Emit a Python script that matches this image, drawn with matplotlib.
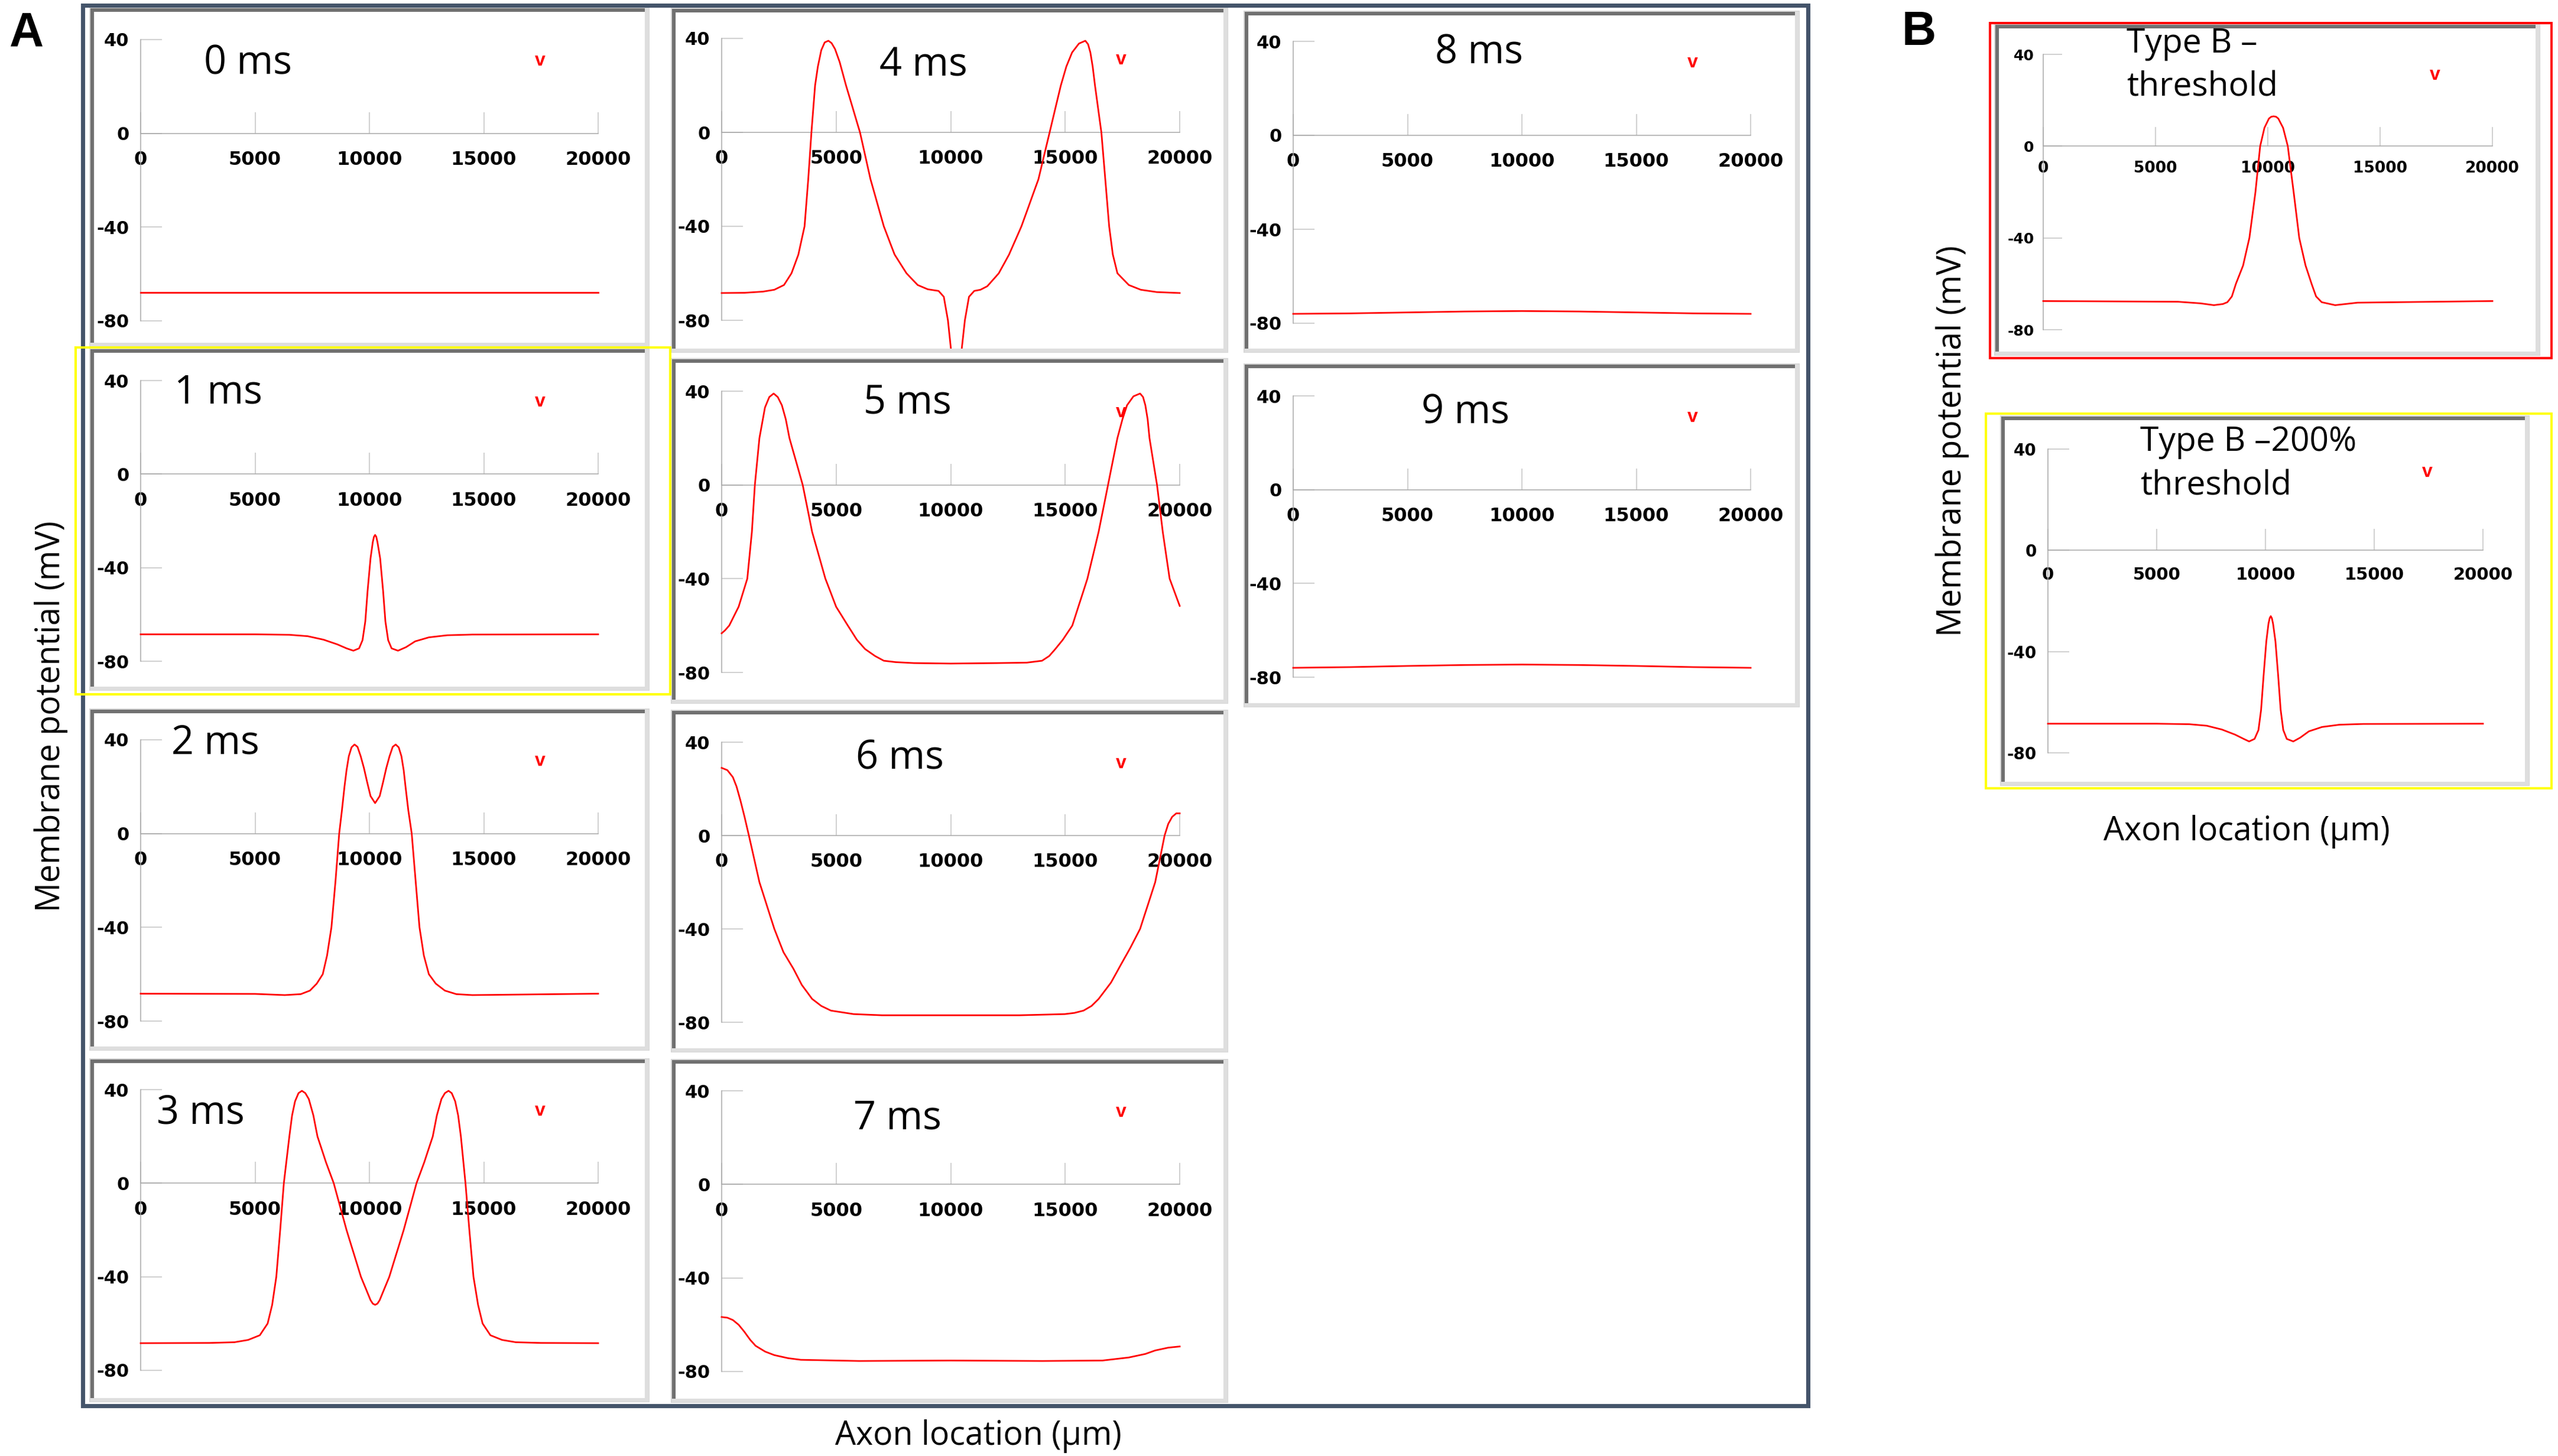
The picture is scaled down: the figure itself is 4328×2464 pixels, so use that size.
import matplotlib
matplotlib.use('Agg')
import matplotlib.pyplot as plt
from matplotlib.patches import Rectangle

W, H = 4328, 2464

x_ticks = [0, 5000, 10000, 15000, 20000]
x_tick_labels = ['0', '5000', '10000', '15000', '20000']
y_ticks = [40, 0, -40, -80]
y_tick_labels = ['40', '0', '-40', '-80']

# membrane potential (mV) along the axon (um)
x_0ms = [0, 5000, 10000, 15000, 20000]
v_0ms = [-68, -68, -68, -68, -68]

x_1ms = [0, 5000, 6500, 7300, 8000, 8600, 9000, 9300, 9550, 9700, 9820, 9920, 10050, 10150,
         10200, 10250, 10300, 10350, 10470, 10600, 10700, 10820, 10970, 11250, 11600, 12000,
         12600, 13400, 14500, 20000]
v_1ms = [-68.5, -68.5, -68.7, -69.3, -70.8, -72.8, -74.5, -75.5, -74.5, -71, -63, -50, -36, -29,
         -26.8, -26, -26.8, -29, -36, -50, -63, -71, -74.5, -75.5, -74, -71.5,
         -69.8, -68.9, -68.6, -68.5]

x_2ms = [0, 5000, 6300, 7000, 7400, 7700, 7960, 8150, 8340, 8520, 8680, 8800, 8910, 9000, 9100,
         9220, 9350, 9480, 9620, 9760, 9900, 10050, 10250, 10450, 10600, 10740, 10880, 11020,
         11150, 11280, 11400, 11500, 11580, 11700, 11850, 12020, 12190, 12380, 12600, 12900,
         13300, 13800, 14500, 20000]
v_2ms = [-68.3, -68.4, -68.9, -68.5, -67, -64, -60, -52, -40, -20, 0, 10, 20, 27, 33,
         36.8, 38, 37, 33, 28, 22, 16, 13, 16, 22, 28, 33, 37,
         38, 36.8, 33, 27, 20, 10, 0, -20, -40, -52, -60, -64,
         -67, -68.5, -68.9, -68.3]

x_3ms = [0, 3000, 4100, 4700, 5210, 5550, 5750, 5930, 6100, 6260, 6500, 6620, 6750, 6900, 7050,
         7200, 7350, 7550, 7730, 8100, 8440, 9000, 9630, 10050, 10150, 10250, 10350, 10450,
         10870, 11500, 12060, 12400, 12770, 12950, 13150, 13300, 13460, 13600, 13750, 13880,
         14000, 14200, 14370, 14550, 14750, 14950, 15290, 15800, 16400, 17500, 20000]
v_3ms = [-68.4, -68.3, -68, -67, -65, -60, -52, -40, -20, 0, 20, 29, 35, 38.5, 39.5,
         38.5, 36, 29, 20, 9, 0, -20, -40, -50, -51.5, -52, -51.5, -50,
         -40, -20, 0, 9, 20, 29, 36, 38.5, 39.5, 38.5, 35, 29,
         20, 0, -20, -40, -52, -60, -65, -67, -68, -68.3, -68.4]

x_4ms = [0, 1000, 1800, 2300, 2720, 3050, 3350, 3620, 3780, 3920, 4080, 4200, 4350, 4500, 4660,
         4800, 4950, 5150, 5430, 6040, 6500, 7080, 7550, 8070, 8560, 9000, 9470, 9700, 9880,
         10040, 10250, 10450, 10620, 10800, 11030, 11300, 11600, 12100, 12550, 13090, 13830,
         14320, 14810, 15050, 15300, 15600, 15880, 16000, 16100, 16200, 16300, 16580, 16750,
         16920, 17080, 17280, 17780, 18300, 19000, 20000]
v_4ms = [-68.4, -68.3, -67.8, -67, -65, -60, -52, -40, -20, 0, 20, 28, 35, 38.3, 39,
         38, 35.5, 30, 20, 0, -20, -40, -52, -60, -65, -66.8, -67.5, -70, -80,
         -95, -120, -95, -80, -70, -67.5, -67, -65.5, -60, -52, -40, -20,
         0, 20, 28, 34, 37.8, 39, 37.5, 34, 28, 20, 0, -20,
         -40, -52, -60, -65, -67, -68, -68.4]

x_5ms = [0, 150, 330, 740, 1120, 1320, 1450, 1650, 1890, 2080, 2270, 2450, 2630, 2800, 2960,
         3540, 3950, 4530, 5000, 5510, 5900, 6260, 6700, 7080, 7600, 8400, 10000, 12000, 13330,
         13990, 14300, 14570, 14900, 15310, 15970, 16460, 16870, 17280, 17500, 17700, 17980,
         18270, 18400, 18500, 18600, 18680, 19010, 19260, 19560, 20000]
v_5ms = [-63.3, -62, -60, -52, -40, -20, 0, 20, 33, 37.5, 39, 37.5, 34, 28, 20,
         0, -20, -40, -52, -60, -66, -70, -73, -75, -75.6, -76, -76.2, -76, -75.8,
         -75, -73, -70, -66, -60, -40, -20, 0, 20, 28, 34, 37.8,
         39, 37.5, 34, 28, 20, 0, -20, -40, -51.6]

x_6ms = [0, 250, 490, 650, 820, 1000, 1190, 1650, 2300, 2700, 3130, 3500, 3950, 4350, 4770,
         5760, 7000, 10000, 13000, 14980, 15400, 15800, 16150, 16460, 17000, 17450, 17850, 18270,
         18930, 19340, 19500, 19670, 19850, 20000]
v_6ms = [29, 28, 25, 21, 15, 8, 0, -20, -40, -50, -57, -64, -70, -73, -75,
         -76.5, -77, -77, -77, -76.5, -76, -75, -73, -70, -63, -55, -48, -40,
         -20, 0, 5, 8, 9.5, 9.5]

x_7ms = [0, 250, 490, 740, 990, 1250, 1480, 1900, 2300, 2900, 3460, 6000, 10000, 14000, 16630,
         17780, 18500, 18930, 19500, 20000]
v_7ms = [-56.7, -57, -58, -60, -63, -66.5, -69, -71.5, -73, -74.3, -75, -75.5, -75.3, -75.5,
         -75.3, -74, -72.5, -71, -69.8, -69.3]

x_8ms = [0, 2500, 5000, 7500, 10000, 12500, 15000, 17500, 20000]
v_8ms = [-76, -75.8, -75.4, -75, -74.8, -75, -75.4, -75.8, -76]

x_9ms = [0, 2500, 5000, 7500, 10000, 12500, 15000, 17500, 20000]
v_9ms = [-76, -75.7, -75.2, -74.8, -74.6, -74.8, -75.2, -75.7, -76]

x_b_thr = [0, 6000, 7000, 7600, 8000, 8200, 8400, 8580, 8900, 9180, 9450, 9660, 9850, 10050,
           10150, 10260, 10370, 10470, 10680, 10890, 11150, 11400, 11680, 11950, 12150, 12400,
           13000, 14000, 20000]
v_b_thr = [-67.5, -67.8, -68.5, -69.3, -68.8, -68, -65.5, -60, -52, -40, -20, 0, 8, 12,
           12.8, 13, 12.8, 12, 8, 0, -20, -40, -52, -60, -65.5, -68,
           -69.3, -68.2, -67.5]

x_b_200 = [0, 5000, 6500, 7300, 8000, 8600, 9000, 9250, 9500, 9680, 9800, 9910, 10040, 10140,
           10195, 10245, 10295, 10350, 10460, 10590, 10700, 10820, 10980, 11280, 11600, 12000,
           12600, 13400, 14500, 20000]
v_b_200 = [-68.5, -68.5, -68.7, -69.3, -70.8, -72.8, -74.5, -75.5, -74.5, -71, -63, -50, -36, -29,
           -26.8, -26, -26.8, -29, -36, -50, -63, -71, -74.5, -75.5, -74, -71.5,
           -69.8, -68.9, -68.6, -68.5]

fig = plt.figure(figsize=(W / 100, H / 100), dpi=100)
fig.patch.set_facecolor('white')


def frac(x0, y0, x1, y1):
    # pixel box, origin top-left -> figure fraction rect
    return [x0 / W, 1 - y1 / H, (x1 - x0) / W, (y1 - y0) / H]


def band(x0, y0, x1, y1, color, z=3):
    fig.add_artist(Rectangle((x0 / W, 1 - y1 / H), (x1 - x0) / W, (y1 - y0) / H,
                             transform=fig.transFigure, facecolor=color,
                             edgecolor='none', zorder=z))


def box(x0, y0, x1, y1, color, lw):
    fig.add_artist(Rectangle((x0 / W, 1 - y1 / H), (x1 - x0) / W, (y1 - y0) / H,
                             transform=fig.transFigure, fill=False, edgecolor=color,
                             linewidth=lw * 0.72, zorder=6))


def panel(frame, calib, x, v, title_lines, title_x, title_ys, tick_fs=23, ytick_fs=22,
          title_fs=48, tick_len=26, xpad=21, ypad=14):
    x0, y0, x1, y1 = frame
    e = 6
    band(x0 - 2, y0 - 2, x1 + 1, y1 + 1, '#d6d6d6', z=-2)
    band(x0, y0, x1, y1, 'white', z=-1)
    band(x0, y0, x0 + e, y1 - e, '#707070')
    band(x0, y0, x1 - e, y0 + e, '#707070')
    band(x1 - e - 1, y0, x1, y1, '#dedede')
    band(x0, y1 - e, x1, y1, '#dedede')
    L, T, R, B = x0 + e, y0 + e, x1 - e - 1, y1 - e

    xa, xb, ya, yb = calib
    kx = (xb - xa) / 20000
    ky = (yb - ya) / 120
    ax = fig.add_axes(frac(L, T, R, B))
    ax.set_xlim((L - xa) / kx, (R - xa) / kx)
    ax.set_ylim(40 - (B - ya) / ky, 40 + (ya - T) / ky)
    ax.plot(x, v, color='#ff0000', lw=2.0, solid_joinstyle='round', zorder=3)

    for s in ('top', 'right'):
        ax.spines[s].set_visible(False)
    ax.spines['left'].set_position(('data', 0))
    ax.spines['bottom'].set_position(('data', 0))
    ax.spines['left'].set_bounds(-80, 40)
    ax.spines['bottom'].set_bounds(0, 20000)
    for s in ('left', 'bottom'):
        ax.spines[s].set_color('#a8a8a8')
        ax.spines[s].set_linewidth(1.1)
    ax.set_xticks(x_ticks, x_tick_labels, fontweight='bold', family='DejaVu Sans')
    ax.set_yticks(y_ticks, y_tick_labels, fontweight='bold', family='DejaVu Sans')
    ax.tick_params(direction='in', length=tick_len, width=1.1, color='#c4c4c4')
    ax.tick_params(axis='x', pad=xpad, labelsize=tick_fs)
    ax.tick_params(axis='y', pad=ypad, labelsize=ytick_fs)

    for line, ty in zip(title_lines, title_ys):
        ax.text(title_x, ty, line, fontsize=title_fs, family='Open Sans',
                ha='left', va='baseline', zorder=4)
    ax.text(17450, 31, 'v', color='#ff0000', fontsize=23, fontweight='bold',
            family='Liberation Sans', ha='center', va='center', zorder=4)
    return ax


panel((153, 14, 1098, 586), (238, 1012, 67, 543), x_0ms, v_0ms, ['0 ms'], 2765, [25.2])
panel((153, 591, 1098, 1168), (238, 1012, 644, 1119), x_1ms, v_1ms, ['1 ms'], 1470, [30.2])
panel((153, 1201, 1098, 1777), (238, 1012, 1252, 1728), x_2ms, v_2ms, ['2 ms'], 1340, [34])
panel((153, 1793, 1098, 2372), (238, 1012, 1844, 2319), x_3ms, v_3ms, ['3 ms'], 700, [25.6])
panel((1137, 15, 2077, 596), (1221, 1996, 65, 542), x_4ms, v_4ms, ['4 ms'], 6890, [23.9])
panel((1137, 608, 2077, 1190), (1221, 1996, 662, 1138), x_5ms, v_5ms, ['5 ms'], 6190, [30.2])
panel((1137, 1203, 2077, 1780), (1221, 1996, 1256, 1730), x_6ms, v_6ms, ['6 ms'], 5860, [28.6])
panel((1137, 1794, 2077, 2373), (1221, 1996, 1846, 2321), x_7ms, v_7ms, ['7 ms'], 5750, [23.8])
panel((2106, 20, 3044, 596), (2188, 2962, 70, 547), x_8ms, v_8ms, ['8 ms'], 6200, [30.6])
panel((2106, 617, 3044, 1196), (2188, 2962, 670, 1146), x_9ms, v_9ms, ['9 ms'], 5610, [28.3])

panel((3376, 42, 4297, 601), (3457, 4217, 92, 558), x_b_thr, v_b_thr,
      ['Type B \u2013', 'threshold'], 3710, [40.9, 21.9], tick_fs=19, ytick_fs=18,
      title_fs=41, tick_len=23, xpad=18, ypad=11)
panel((3386, 705, 4279, 1329), (3465, 4201, 760, 1274), x_b_200, v_b_200,
      ['Type B \u2013200%', 'threshold'], 4240, [39.2, 21.9], tick_fs=21, ytick_fs=20,
      title_fs=41, tick_len=26, xpad=20, ypad=14)

# outlines around the groups
box(139.5, 8.5, 3058.5, 2378.5, '#44546a', 7)
box(128, 588, 1134, 1175, '#ffff00', 4)
box(3367, 39, 4317, 606, '#ff0000', 4)
box(3360, 700, 4317, 1334, '#ffff00', 4)

fig.text(16 / W, 1 - 77 / H, 'A', fontsize=58, fontweight='bold', family='Liberation Sans',
         va='baseline', ha='left')
fig.text(3218 / W, 1 - 76 / H, 'B', fontsize=58, fontweight='bold', family='Liberation Sans',
         va='baseline', ha='left')

fig.text(86 / W, 1 - 1212 / H, 'Membrane potential (mV)', rotation=90, fontsize=40,
         family='Open Sans', ha='center', va='center')
fig.text(1655 / W, 1 - 2445 / H, 'Axon location (\u00b5m)', fontsize=40,
         family='Open Sans', ha='center', va='baseline')
fig.text(3303 / W, 1 - 746 / H, 'Membrane potential (mV)', rotation=90, fontsize=40,
         family='Open Sans', ha='center', va='center')
fig.text(3801 / W, 1 - 1422 / H, 'Axon location (\u00b5m)', fontsize=40,
         family='Open Sans', ha='center', va='baseline')

fig.savefig('out.png', dpi=100, facecolor='white')
